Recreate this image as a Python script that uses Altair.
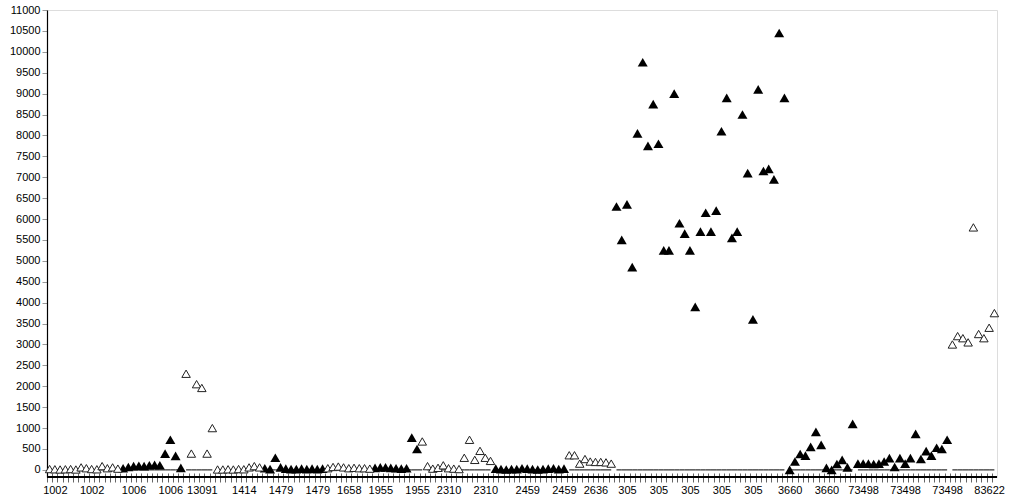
import altair as alt
import pandas as pd

# ---- data (one array per sample group) ----
v1002 = [20, 15, 10, 15, 20, 10, 60, 40, 20, 15, 90, 40, 60, 30]
v1006 = [40, 70, 90, 100, 90, 110, 120, 110, 390, 720, 335, 50]
v13091 = [2300, 390, 2050, 1960, 390, 1000]
v1414 = [10, 10, 15, 10, 20, 15, 60, 90, 60]
v1479 = [40, 20, 290, 60, 30, 20, 20, 30, 20, 30, 20, 30]
v1658 = [40, 70, 80, 60, 40, 50, 40, 40, 30]
v1955_filled = [50, 60, 60, 50, 40, 30, 40, 770, 500]
v1955_open = [680]
v2310 = [90, 30, 50, 110, 40, 30, 20, 290, 720, 240, 455, 290, 215]
v2459 = [30, 20, 10, 20, 20, 40, 30, 20, 10, 20, 30, 40, 20, 30]
v2636 = [350, 350, 150, 260, 200, 190, 190, 180, 150]
v305 = [6300, 5500, 6350, 4850, 8050, 9750, 7750, 8750, 7800, 5250, 5250,
        9000, 5900, 5650, 5250, 3900, 5700, 6150, 5700, 6200, 8100, 8900,
        5550, 5700, 8500, 7100, 3600, 9100, 7150, 7200, 6950, 10450, 8900]
v3660 = [0, 200, 380, 340, 550, 910, 600, 50, 0, 140, 240, 60, 1100]
v73498 = [150, 150, 150, 140, 150, 200, 280, 70, 280, 150, 280, 860,
          260, 450, 340, 530, 500, 720]
v83622 = [3000, 3200, 3150, 3050, 5800, 3250, 3150, 3400, 3750]

GROUPS = [
    ("1002", "open", v1002),
    ("1006", "filled", v1006),
    ("13091", "open", v13091),
    ("1414", "open", v1414),
    ("1479", "filled", v1479),
    ("1658", "open", v1658),
    ("1955", "filled", v1955_filled),
    ("1955", "open", v1955_open),
    ("2310", "open", v2310),
    ("2459", "filled", v2459),
    ("2636", "open", v2636),
    ("305", "filled", v305),
    ("3660", "filled", v3660),
    ("73498", "filled", v73498),
    ("83622", "open", v83622),
]

# categories whose name is printed under the axis
LABEL_AT = [1, 8, 16, 23, 29, 37, 44, 51, 57, 63, 70, 76, 83, 91, 98, 104,
            110, 116, 122, 128, 134, 141, 148, 155, 163, 171, 179]
Y_TICKS = list(range(0, 11001, 500))
Y_MIN = -170
Y_MAX = 11000

rows = []
idx = 0
seg = -1
prev = None
for name, kind, vals in GROUPS:
    if name != prev:
        seg += 1
        prev = name
    for v in vals:
        rows.append({"idx": idx, "value": v, "name": name, "kind": kind, "seg": seg})
        idx += 1
df = pd.DataFrame(rows)
N = len(df)

label_arr = [""] * N
for i in LABEL_AT:
    label_arr[i] = df.loc[i, "name"]
label_expr = "[" + ",".join("'" + s + "'" for s in label_arr) + "][datum.value]"

W = 950
H = 467
band = W / N

x_enc = alt.X(
    "idx:O",
    scale=alt.Scale(paddingInner=0, paddingOuter=0),
    axis=alt.Axis(
        title=None,
        labelAngle=0,
        labelExpr=label_expr,
        labelOverlap=False,
        labelFont="Liberation Sans",
        labelFontSize=11,
        labelColor="#000000",
        labelPadding=2,
        tickSize=9,
        tickColor="#666666",
        tickWidth=1,
        tickOffset=-band / 2,
        labelOffset=band / 2,
        domain=False,
        offset=-4,
    ),
)

y_scale = alt.Scale(domain=[Y_MIN, Y_MAX], nice=False, zero=False)
y_axis = alt.Axis(
    title=None,
    values=Y_TICKS,
    format="d",
    grid=False,
    domainColor="#000000",
    domainWidth=1.2,
    tickColor="#999999",
    tickSize=5,
    labelFont="Liberation Sans",
    labelFontSize=11,
    labelColor="#000000",
    labelPadding=2,
)

base = alt.Chart(df)

axis_line = base.mark_rule(color="#000000", strokeWidth=1).encode(
    y=alt.datum(Y_MIN, scale=y_scale, axis=y_axis)
)

baseline = base.mark_line(color="#000000", strokeWidth=1).encode(
    x=x_enc,
    y=alt.datum(0, scale=y_scale, axis=y_axis),
    detail="seg:N",
)

filled = base.transform_filter(alt.datum.kind == "filled").mark_point(
    shape="triangle-up", filled=True, color="#000000", size=100, opacity=1
).encode(
    x=x_enc,
    y=alt.Y("value:Q", scale=y_scale, axis=y_axis),
)

open_pts = base.transform_filter(alt.datum.kind == "open").mark_point(
    shape="triangle-up", filled=False, fill="#ffffff", stroke="#222222",
    strokeWidth=1, size=72, opacity=1, fillOpacity=1
).encode(
    x=x_enc,
    y=alt.Y("value:Q", scale=y_scale, axis=y_axis),
)

chart = alt.layer(axis_line, baseline, filled, open_pts).properties(
    width=W, height=H,
    padding={"left": 9, "top": 4, "right": 4, "bottom": 2},
).configure_view(strokeWidth=0).configure(background="#ffffff")

chart.save("out.html", embed_options={"renderer": "svg", "actions": False})
